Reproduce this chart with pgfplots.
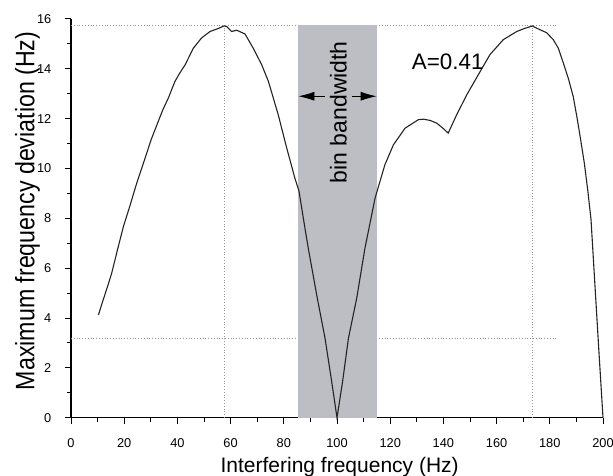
\documentclass[border=0pt]{standalone}
\usepackage{fontspec}
\setmainfont{Liberation Sans}
\usepackage{pgfplots}
\pgfplotsset{compat=1.18}
\usetikzlibrary{arrows.meta}
\definecolor{bandc}{RGB}{189,190,195}
\definecolor{dotc}{RGB}{150,150,150}
\definecolor{curvec}{RGB}{35,35,35}
\begin{document}
\begin{tikzpicture}
\useasboundingbox (-35.5pt,-28.65pt) rectangle (271pt,208.85pt);
\begin{axis}[
  at={(0,0)}, anchor=south west,
  scale only axis, width=266pt, height=199.35pt,
  xmin=0, xmax=200, ymin=0, ymax=16,
  axis lines=left,
  axis line style={-, line width=0.6pt, black},
  clip=false,
  xtick={0,20,...,200}, ytick={0,2,...,16},
  minor x tick num=1, minor y tick num=1,
  tick align=outside,
  major tick length=3pt, minor tick length=2pt,
  tick style={black, line width=0.5pt},
  /pgf/number format/assume math mode=true,
  ticklabel style={font=\fontsize{6.4}{7}\selectfont},
  xticklabel style={yshift=-4pt},
  yticklabel style={xshift=-3.3pt},
]
% dotted guide lines
\addplot[dotc, densely dotted, line width=0.4pt] coordinates {(0,15.75) (182.6,15.75)};
\addplot[dotc, densely dotted, line width=0.4pt] coordinates {(0,3.2) (182.6,3.2)};
\addplot[dotc, densely dotted, line width=0.4pt] coordinates {(57.6,0) (57.6,15.75)};
\addplot[dotc, densely dotted, line width=0.4pt] coordinates {(173.4,0) (173.4,15.75)};
% bin bandwidth band
\addplot[draw=none, fill=bandc] coordinates {(85.3,0) (115,0) (115,15.77) (85.3,15.77)} -- cycle;
% curve
\addplot[curvec, line width=0.55pt] coordinates {
(10.3,4.12) (12,4.7) (14,5.35) (15.3,5.8) (17.5,6.75) (19.7,7.67) (22,8.45)
(24.7,9.41) (27.5,10.3) (30.1,11.15) (32.8,11.89) (34.5,12.35) (36.6,12.83)
(39.1,13.5) (41,13.85) (42.9,14.16) (46,14.83) (49.1,15.24) (52.3,15.5)
(55.4,15.62) (57.5,15.72) (58.5,15.7) (60.4,15.5) (62.3,15.55) (65.4,15.4)
(68.5,14.83) (71.7,14.16) (74.2,13.5) (77.9,12.16) (81.1,10.82) (84.2,9.6)
(85.7,9.1) (87.5,7.9) (89.2,6.8) (92.6,4.79) (95.5,3.19) (98,1.45) (100,0)
(102.1,1.45) (104.3,3.19) (107.4,4.79) (110.5,6.8) (114.3,8.81) (118,10.15)
(121.2,10.95) (125.6,11.62) (130.6,11.96) (132.5,11.98) (135,11.93)
(137.5,11.82) (140,11.6) (141.8,11.42) (145,12.16) (148.8,12.96) (153.1,13.76)
(157.5,14.57) (162.5,15.17) (167.6,15.5) (170.5,15.62) (173.4,15.72)
(176.3,15.57) (178.8,15.45) (181.3,15.17) (183.2,14.83) (185.1,14.23)
(187,13.6) (188.8,12.89) (190.3,12.0) (191.6,11.15) (193,10.2) (194.3,9.1)
(195.5,7.94) (197,5.26) (198.5,2.59) (200,0)
};
% arrows
\draw[-{Latex[length=8pt,width=4.5pt]}, line width=0.4pt] (axis cs:95.5,12.9) -- (axis cs:85.5,12.9);
\draw[-{Latex[length=8pt,width=4.5pt]}, line width=0.4pt] (axis cs:105.5,12.9) -- (axis cs:114.9,12.9);
% texts
\node[rotate=90, anchor=base, inner sep=0pt, font=\fontsize{11.5}{13}\selectfont] at (axis cs:103.6,12.26) {bin bandwidth};
\node[anchor=base west, inner sep=0pt, font=\fontsize{11.2}{13}\selectfont] at (axis cs:128,13.96) {A=0.41};
% axis labels
\node[anchor=base, inner sep=0pt, font=\fontsize{10.5}{12}\selectfont] at ([yshift=-27.5pt]axis cs:101,0) {Interfering frequency (Hz)};
\node[rotate=90, yscale=1.15, anchor=base, inner sep=0pt, font=\fontsize{11.6}{13}\selectfont] at ([xshift=-18.3pt]axis cs:0,8.3) {Maximum frequency deviation (Hz)};
\end{axis}
\end{tikzpicture}
\end{document}
